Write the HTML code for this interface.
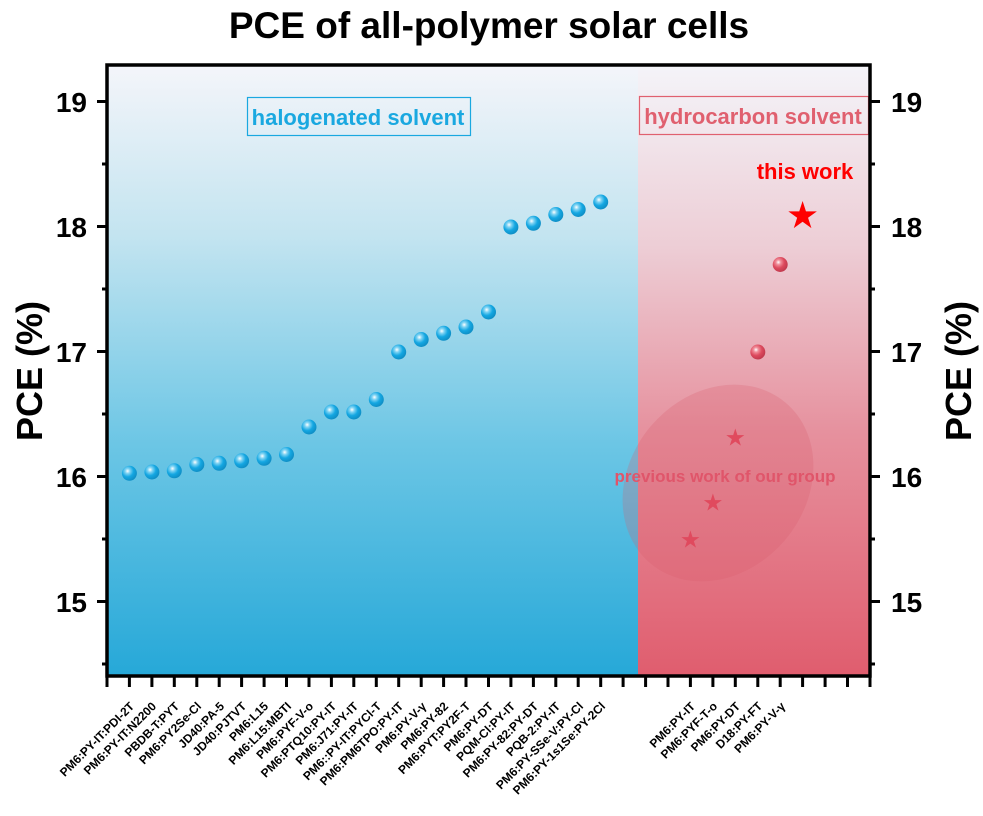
<!DOCTYPE html>
<html><head><meta charset="utf-8"><style>
html,body{margin:0;padding:0;background:#fff;}
svg{display:block;font-family:"Liberation Sans",Arial,sans-serif;}
</style></head><body>
<svg width="983" height="816" viewBox="0 0 983 816" xmlns="http://www.w3.org/2000/svg">
<defs>
<linearGradient id="gb" x1="0" y1="0" x2="0" y2="1">
<stop offset="0" stop-color="#f4f5fa"/>
<stop offset="0.28" stop-color="#c3e4f0"/>
<stop offset="0.62" stop-color="#6cc6e5"/>
<stop offset="1" stop-color="#26a8d8"/>
</linearGradient>
<linearGradient id="gp" x1="0" y1="0" x2="0" y2="1">
<stop offset="0" stop-color="#f4f4f9"/>
<stop offset="0.3" stop-color="#edcdd5"/>
<stop offset="0.6" stop-color="#e6919e"/>
<stop offset="1" stop-color="#e05d6e"/>
</linearGradient>
<radialGradient id="sb" cx="0.38" cy="0.35" r="0.65">
<stop offset="0" stop-color="#ffffff"/>
<stop offset="0.25" stop-color="#7fd3f3"/>
<stop offset="0.6" stop-color="#14a7e2"/>
<stop offset="1" stop-color="#0f8fc6"/>
</radialGradient>
<radialGradient id="sp" cx="0.38" cy="0.35" r="0.65">
<stop offset="0" stop-color="#ffffff"/>
<stop offset="0.25" stop-color="#f08d99"/>
<stop offset="0.6" stop-color="#dd4a5e"/>
<stop offset="1" stop-color="#c23a4e"/>
</radialGradient>
<g id="b"><circle r="7.5" fill="url(#sb)"/></g>
<g id="p"><circle r="7.5" fill="url(#sp)"/></g>
<path id="st" d="M0,-1 L0.2245,-0.309 L0.951,-0.309 L0.363,0.118 L0.588,0.809 L0,0.382 L-0.588,0.809 L-0.363,0.118 L-0.951,-0.309 L-0.2245,-0.309 Z"/>
</defs>

<text x="489" y="38" text-anchor="middle" font-size="37" font-weight="bold">PCE of all-polymer solar cells</text>

<rect x="107" y="65" width="531" height="611" fill="url(#gb)"/>
<rect x="638" y="65" width="232" height="611" fill="url(#gp)"/>

<ellipse cx="718" cy="483" rx="105" ry="88" transform="rotate(-50 718 483)" fill="#d85a6a" fill-opacity="0.25"/>

<rect x="247.5" y="97.5" width="223" height="38" fill="none" stroke="#1aa8e0" stroke-width="1.2"/>
<text x="358" y="125" text-anchor="middle" font-size="22" font-weight="bold" fill="#1aa8e0">halogenated solvent</text>
<rect x="639.5" y="96.5" width="229" height="38" fill="none" stroke="#e0606f" stroke-width="1.2"/>
<text x="753" y="124" text-anchor="middle" font-size="22" font-weight="bold" fill="#e0606f">hydrocarbon solvent</text>
<text x="805" y="179" text-anchor="middle" font-size="22" font-weight="bold" fill="#ff0000">this work</text>
<text x="725" y="482" text-anchor="middle" font-size="17" font-weight="bold" fill="#e0556a">previous work of our group</text>

<g>
<use href="#b" x="129.4" y="473.3"/><use href="#b" x="151.9" y="472"/><use href="#b" x="174.3" y="470.8"/>
<use href="#b" x="196.8" y="464.5"/><use href="#b" x="219.2" y="463.3"/><use href="#b" x="241.6" y="460.8"/>
<use href="#b" x="264.1" y="458.3"/><use href="#b" x="286.5" y="454.5"/><use href="#b" x="309" y="427"/>
<use href="#b" x="331.4" y="412"/><use href="#b" x="353.8" y="412"/><use href="#b" x="376.3" y="399.5"/>
<use href="#b" x="398.7" y="352"/><use href="#b" x="421.2" y="339.5"/><use href="#b" x="443.6" y="333.3"/>
<use href="#b" x="466" y="327"/><use href="#b" x="488.5" y="312"/><use href="#b" x="510.9" y="227"/>
<use href="#b" x="533.4" y="223.3"/><use href="#b" x="555.8" y="214.5"/><use href="#b" x="578.2" y="209.5"/>
<use href="#b" x="600.7" y="202"/>
<use href="#p" x="757.8" y="352"/><use href="#p" x="780.2" y="264.5"/>
<use href="#st" fill="#e04a5e" transform="translate(690.4 540) scale(9.5)"/>
<use href="#st" fill="#e04a5e" transform="translate(712.9 503) scale(9.5)"/>
<use href="#st" fill="#e04a5e" transform="translate(735.3 438) scale(9.5)"/>
<use href="#st" fill="#ff0000" transform="translate(802.6 216) scale(15)"/>
</g>

<rect x="107" y="65" width="763" height="611" fill="none" stroke="#000" stroke-width="3.5"/>

<g stroke="#000" stroke-width="3">
<path d="M97 101.5H107M97 226.5H107M97 351.5H107M97 476.5H107M97 601.5H107"/>
<path d="M102 164H107M102 289H107M102 414H107M102 539H107M102 664H107"/>
<path d="M870 101.5H880M870 226.5H880M870 351.5H880M870 476.5H880M870 601.5H880"/>
<path d="M870 164H875M870 289H875M870 414H875M870 539H875M870 664H875"/>
<path d="M107 676V687M129.4 676V687M151.9 676V687M174.3 676V687M196.8 676V687M219.2 676V687M241.6 676V687M264.1 676V687M286.5 676V687M309 676V687M331.4 676V687M353.8 676V687M376.3 676V687M398.7 676V687M421.2 676V687M443.6 676V687M466 676V687M488.5 676V687M510.9 676V687M533.4 676V687M555.8 676V687M578.2 676V687M600.7 676V687M623.1 676V687M645.6 676V687M668 676V687M690.4 676V687M712.9 676V687M735.3 676V687M757.8 676V687M780.2 676V687M802.6 676V687M825.1 676V687M847.5 676V687M870 676V687"/>
</g>

<g font-size="28" font-weight="bold" text-anchor="end">
<text x="87" y="112">19</text><text x="87" y="237">18</text><text x="87" y="362">17</text><text x="87" y="487">16</text><text x="87" y="612">15</text>
</g>
<g font-size="28" font-weight="bold" text-anchor="start">
<text x="891" y="112">19</text><text x="891" y="237">18</text><text x="891" y="362">17</text><text x="891" y="487">16</text><text x="891" y="612">15</text>
</g>
<text transform="translate(42 371) rotate(-90)" text-anchor="middle" font-size="36" font-weight="bold">PCE (%)</text>
<text transform="translate(971 371) rotate(-90)" text-anchor="middle" font-size="36" font-weight="bold">PCE (%)</text>

<g font-size="12" font-weight="bold" text-anchor="end">
<text transform="translate(135 707) rotate(-45)">PM6:PY-IT:PDI-2T</text>
<text transform="translate(157 707) rotate(-45)">PM6:PY-IT:N2200</text>
<text transform="translate(180 707) rotate(-45)">PBDB-T:PYT</text>
<text transform="translate(202 707) rotate(-45)">PM6:PY2Se-Cl</text>
<text transform="translate(225 707) rotate(-45)">JD40:PA-5</text>
<text transform="translate(247 707) rotate(-45)">JD40:PJTVT</text>
<text transform="translate(269 707) rotate(-45)">PM6:L15</text>
<text transform="translate(292 707) rotate(-45)">PM6:L15:MBTI</text>
<text transform="translate(314 707) rotate(-45)">PM6:PYF-V-o</text>
<text transform="translate(337 707) rotate(-45)">PM6:PTQ10:PY-IT</text>
<text transform="translate(359 707) rotate(-45)">PM6:J71:PY-IT</text>
<text transform="translate(382 707) rotate(-45)">PM6::PY-IT:PYCl-T</text>
<text transform="translate(404 707) rotate(-45)">PM6:PM6TPO:PY-IT</text>
<text transform="translate(427 707) rotate(-45)">PM6:PY-V-γ</text>
<text transform="translate(449 707) rotate(-45)">PM6:PY-82</text>
<text transform="translate(471 707) rotate(-45)">PM6:PYT:PY2F-T</text>
<text transform="translate(494 707) rotate(-45)">PM6:PY-DT</text>
<text transform="translate(516 707) rotate(-45)">PQM-Cl:PY-IT</text>
<text transform="translate(539 707) rotate(-45)">PM6:PY-82:PY-DT</text>
<text transform="translate(561 707) rotate(-45)">PQB-2:PY-IT</text>
<text transform="translate(584 707) rotate(-45)">PM6:PY-SSe-V:PY-Cl</text>
<text transform="translate(606 707) rotate(-45)">PM6:PY-1s1Se:PY-2Cl</text>
<text transform="translate(696 707) rotate(-45)">PM6:PY-IT</text>
<text transform="translate(718 707) rotate(-45)">PM6:PYF-T-o</text>
<text transform="translate(741 707) rotate(-45)">PM6:PY-DT</text>
<text transform="translate(763 707) rotate(-45)">D18:PY-FT</text>
<text transform="translate(786 707) rotate(-45)">PM6:PY-V-γ</text>
</g>
</svg>
</body></html>
